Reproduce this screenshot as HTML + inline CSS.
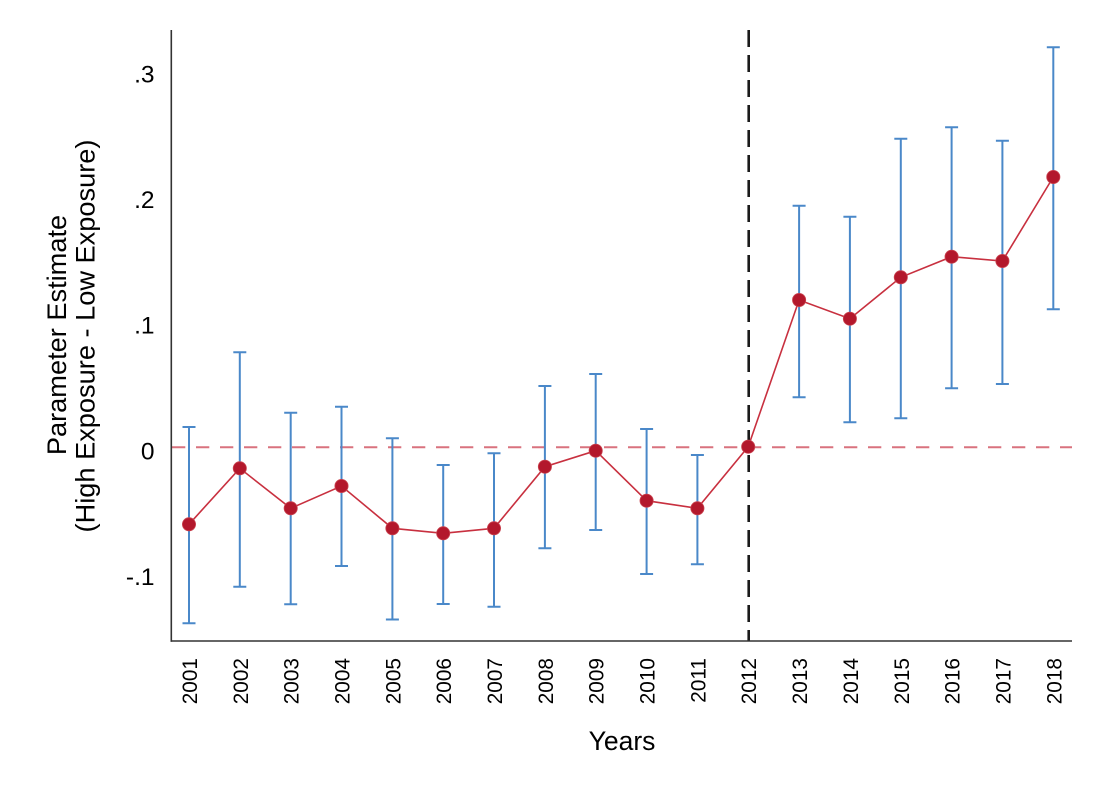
<!DOCTYPE html>
<html><head><meta charset="utf-8"><style>
html,body{margin:0;padding:0;background:#fff;}
svg{display:block;font-family:"Liberation Sans",Arial,Helvetica,sans-serif;}
</style></head><body>
<svg width="1102" height="801" viewBox="0 0 1102 801" xmlns="http://www.w3.org/2000/svg">
<rect width="1102" height="801" fill="#fff"/>
<!-- zero dashed line -->
<line x1="172" y1="447.3" x2="1072" y2="447.3" stroke="#d9727e" stroke-width="2" stroke-dasharray="13.3,10.7"/>
<!-- vertical dashed -->
<line x1="748.7" y1="30" x2="748.7" y2="641" stroke="#1a1a1a" stroke-width="2.6" stroke-dasharray="17,8"/>
<!-- error bars -->
<g stroke="#4a88c9" stroke-width="2" fill="none">
<path d="M189 427V623.3M182.5 427H195.5M182.5 623.3H195.5"/>
<path d="M239.8 352.3V586.7M233.3 352.3H246.3M233.3 586.7H246.3"/>
<path d="M290.7 412.7V604.3M284.2 412.7H297.2M284.2 604.3H297.2"/>
<path d="M341.5 406.7V566M335 406.7H348M335 566H348"/>
<path d="M392.4 438.3V619.5M385.9 438.3H398.9M385.9 619.5H398.9"/>
<path d="M443.2 465V604M436.7 465H449.7M436.7 604H449.7"/>
<path d="M494 453.3V606.7M487.5 453.3H500.5M487.5 606.7H500.5"/>
<path d="M544.9 386V548.3M538.4 386H551.4M538.4 548.3H551.4"/>
<path d="M595.7 374V530M589.2 374H602.2M589.2 530H602.2"/>
<path d="M646.6 429V574M640.1 429H653.1M640.1 574H653.1"/>
<path d="M697.4 455V564.3M690.9 455H703.9M690.9 564.3H703.9"/>
<path d="M799.1 205.7V397.3M792.6 205.7H805.6M792.6 397.3H805.6"/>
<path d="M849.9 216.7V422.3M843.4 216.7H856.4M843.4 422.3H856.4"/>
<path d="M900.8 138.7V418.3M894.3 138.7H907.3M894.3 418.3H907.3"/>
<path d="M951.6 127.3V388.3M945.1 127.3H958.1M945.1 388.3H958.1"/>
<path d="M1002.4 140.7V384M995.9 140.7H1008.9M995.9 384H1008.9"/>
<path d="M1053.3 47.3V309.3M1046.8 47.3H1059.8M1046.8 309.3H1059.8"/>
</g>
<!-- series line -->
<polyline fill="none" stroke="#c8303f" stroke-width="1.6" points="189,524.3 239.8,468.3 290.7,508.3 341.5,486 392.4,528.3 443.2,533.3 494,528.3 544.9,466.7 595.7,450.7 646.6,500.7 697.4,508.3 748.2,446.7 799.1,300 849.9,318.7 900.8,277.3 951.6,256.7 1002.4,261 1053.3,177"/>
<g fill="#b3182c" stroke="#c9434f" stroke-width="0.8">
<circle cx="189" cy="524.3" r="6.6"/>
<circle cx="239.8" cy="468.3" r="6.6"/>
<circle cx="290.7" cy="508.3" r="6.6"/>
<circle cx="341.5" cy="486" r="6.6"/>
<circle cx="392.4" cy="528.3" r="6.6"/>
<circle cx="443.2" cy="533.3" r="6.6"/>
<circle cx="494" cy="528.3" r="6.6"/>
<circle cx="544.9" cy="466.7" r="6.6"/>
<circle cx="595.7" cy="450.7" r="6.6"/>
<circle cx="646.6" cy="500.7" r="6.6"/>
<circle cx="697.4" cy="508.3" r="6.6"/>
<circle cx="748.2" cy="446.7" r="6.6"/>
<circle cx="799.1" cy="300" r="6.6"/>
<circle cx="849.9" cy="318.7" r="6.6"/>
<circle cx="900.8" cy="277.3" r="6.6"/>
<circle cx="951.6" cy="256.7" r="6.6"/>
<circle cx="1002.4" cy="261" r="6.6"/>
<circle cx="1053.3" cy="177" r="6.6"/>
</g>
<!-- axes -->
<line x1="171.3" y1="30" x2="171.3" y2="641.8" stroke="#333" stroke-width="1.6"/>
<line x1="170.5" y1="641" x2="1072" y2="641" stroke="#333" stroke-width="1.6"/>
<!-- y tick labels -->
<g font-size="24.5" fill="#000" text-anchor="end">
<text x="154.5" y="82.5">.3</text>
<text x="154.5" y="208">.2</text>
<text x="154.5" y="333.7">.1</text>
<text x="154.5" y="459.3">0</text>
<text x="154.5" y="585">-.1</text>
</g>
<!-- y title -->
<g font-size="27.2" fill="#000" text-anchor="middle">
<text transform="translate(66,335) rotate(-90)">Parameter Estimate</text>
<text transform="translate(94.3,336) rotate(-90)">(High Exposure - Low Exposure)</text>
</g>
<!-- x tick labels -->
<g font-size="20.8" fill="#000" text-anchor="end">
<text transform="translate(197,658) rotate(-90)">2001</text>
<text transform="translate(247.8,658) rotate(-90)">2002</text>
<text transform="translate(298.7,658) rotate(-90)">2003</text>
<text transform="translate(349.5,658) rotate(-90)">2004</text>
<text transform="translate(400.4,658) rotate(-90)">2005</text>
<text transform="translate(451.2,658) rotate(-90)">2006</text>
<text transform="translate(502,658) rotate(-90)">2007</text>
<text transform="translate(552.9,658) rotate(-90)">2008</text>
<text transform="translate(603.7,658) rotate(-90)">2009</text>
<text transform="translate(654.6,658) rotate(-90)">2010</text>
<text transform="translate(705.4,658) rotate(-90)">2011</text>
<text transform="translate(756.2,658) rotate(-90)">2012</text>
<text transform="translate(807.1,658) rotate(-90)">2013</text>
<text transform="translate(857.9,658) rotate(-90)">2014</text>
<text transform="translate(908.8,658) rotate(-90)">2015</text>
<text transform="translate(959.6,658) rotate(-90)">2016</text>
<text transform="translate(1010.4,658) rotate(-90)">2017</text>
<text transform="translate(1061.3,658) rotate(-90)">2018</text>
</g>
<!-- x title -->
<text x="622" y="750" font-size="26.5" text-anchor="middle" fill="#000">Years</text>
</svg>
</body></html>
